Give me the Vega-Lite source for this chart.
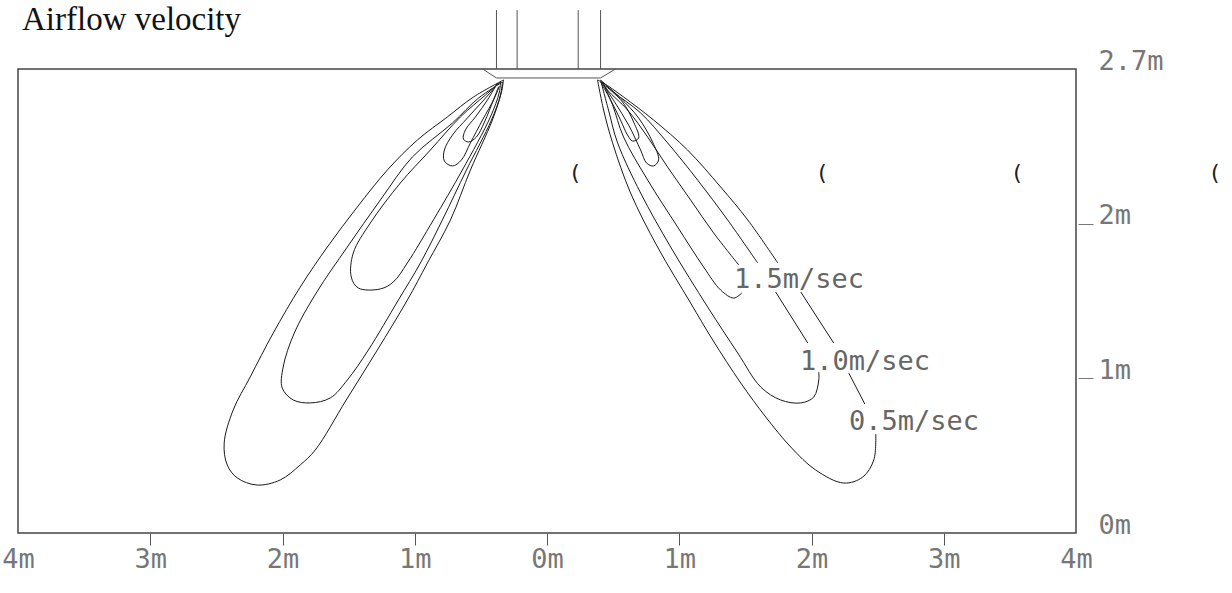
{
  "$schema": "https://vega.github.io/schema/vega-lite/v6.json",
  "autosize": {"type": "none"},
  "padding": {"left": 18, "top": 69, "right": 156, "bottom": 60},
  "width": 1058,
  "height": 464,
  "background": "white",
  "config": {"view": {"stroke": "#444", "strokeWidth": 1.5}},
  "datasets": {
    "c": [
      {"g":"L05","o":1,"x":-0.329,"y":2.929},{"g":"L05","o":2,"x":-0.556,"y":2.819},{"g":"L05","o":3,"x":-0.753,"y":2.690},{"g":"L05","o":4,"x":-0.980,"y":2.541},{"g":"L05","o":5,"x":-1.207,"y":2.347},{"g":"L05","o":6,"x":-1.434,"y":2.108},{"g":"L05","o":7,"x":-1.661,"y":1.849},{"g":"L05","o":8,"x":-1.866,"y":1.590},{"g":"L05","o":9,"x":-2.070,"y":1.293},{"g":"L05","o":10,"x":-2.244,"y":1.009},{"g":"L05","o":11,"x":-2.373,"y":0.795},{"g":"L05","o":12,"x":-2.441,"y":0.582},{"g":"L05","o":13,"x":-2.418,"y":0.440},{"g":"L05","o":14,"x":-2.342,"y":0.356},{"g":"L05","o":15,"x":-2.191,"y":0.310},{"g":"L05","o":16,"x":-2.017,"y":0.343},{"g":"L05","o":17,"x":-1.866,"y":0.440},{"g":"L05","o":18,"x":-1.752,"y":0.537},{"g":"L05","o":19,"x":-1.518,"y":0.860},{"g":"L05","o":20,"x":-1.283,"y":1.183},{"g":"L05","o":21,"x":-1.056,"y":1.506},{"g":"L05","o":22,"x":-0.904,"y":1.746},{"g":"L05","o":23,"x":-0.730,"y":2.024},{"g":"L05","o":24,"x":-0.579,"y":2.347},{"g":"L05","o":25,"x":-0.413,"y":2.670},{"g":"L05","o":26,"x":-0.344,"y":2.851},{"g":"L05","o":27,"x":-0.329,"y":2.929},
      {"g":"L10","o":1,"x":-0.337,"y":2.916},{"g":"L10","o":2,"x":-0.518,"y":2.812},{"g":"L10","o":3,"x":-0.715,"y":2.651},{"g":"L10","o":4,"x":-1.018,"y":2.431},{"g":"L10","o":5,"x":-1.260,"y":2.153},{"g":"L10","o":6,"x":-1.510,"y":1.849},{"g":"L10","o":7,"x":-1.745,"y":1.552},{"g":"L10","o":8,"x":-1.911,"y":1.293},{"g":"L10","o":9,"x":-1.995,"y":1.073},{"g":"L10","o":10,"x":-2.002,"y":0.937},{"g":"L10","o":11,"x":-1.919,"y":0.860},{"g":"L10","o":12,"x":-1.790,"y":0.841},{"g":"L10","o":13,"x":-1.639,"y":0.873},{"g":"L10","o":14,"x":-1.510,"y":0.989},{"g":"L10","o":15,"x":-1.351,"y":1.183},{"g":"L10","o":16,"x":-1.124,"y":1.506},{"g":"L10","o":17,"x":-0.957,"y":1.746},{"g":"L10","o":18,"x":-0.791,"y":2.024},{"g":"L10","o":19,"x":-0.609,"y":2.347},{"g":"L10","o":20,"x":-0.420,"y":2.670},{"g":"L10","o":21,"x":-0.352,"y":2.832},{"g":"L10","o":22,"x":-0.337,"y":2.916},
      {"g":"L15","o":1,"x":-0.352,"y":2.916},{"g":"L15","o":2,"x":-0.465,"y":2.832},{"g":"L15","o":3,"x":-0.655,"y":2.690},{"g":"L15","o":4,"x":-0.882,"y":2.476},{"g":"L15","o":5,"x":-1.109,"y":2.263},{"g":"L15","o":6,"x":-1.336,"y":2.004},{"g":"L15","o":7,"x":-1.465,"y":1.810},{"g":"L15","o":8,"x":-1.480,"y":1.655},{"g":"L15","o":9,"x":-1.427,"y":1.584},{"g":"L15","o":10,"x":-1.260,"y":1.578},{"g":"L15","o":11,"x":-1.162,"y":1.623},{"g":"L15","o":12,"x":-1.056,"y":1.746},{"g":"L15","o":13,"x":-0.859,"y":2.024},{"g":"L15","o":14,"x":-0.640,"y":2.347},{"g":"L15","o":15,"x":-0.428,"y":2.690},{"g":"L15","o":16,"x":-0.360,"y":2.851},{"g":"L15","o":17,"x":-0.352,"y":2.916},
      {"g":"L20","o":1,"x":-0.367,"y":2.909},{"g":"L20","o":2,"x":-0.465,"y":2.812},{"g":"L20","o":3,"x":-0.602,"y":2.683},{"g":"L20","o":4,"x":-0.715,"y":2.573},{"g":"L20","o":5,"x":-0.776,"y":2.476},{"g":"L20","o":6,"x":-0.776,"y":2.405},{"g":"L20","o":7,"x":-0.715,"y":2.373},{"g":"L20","o":8,"x":-0.647,"y":2.412},{"g":"L20","o":9,"x":-0.579,"y":2.522},{"g":"L20","o":10,"x":-0.488,"y":2.670},{"g":"L20","o":11,"x":-0.397,"y":2.812},{"g":"L20","o":12,"x":-0.360,"y":2.890},
      {"g":"L25","o":1,"x":-0.375,"y":2.909},{"g":"L25","o":2,"x":-0.450,"y":2.800},{"g":"L25","o":3,"x":-0.541,"y":2.690},{"g":"L25","o":4,"x":-0.617,"y":2.606},{"g":"L25","o":5,"x":-0.632,"y":2.547},{"g":"L25","o":6,"x":-0.594,"y":2.528},{"g":"L25","o":7,"x":-0.534,"y":2.560},{"g":"L25","o":8,"x":-0.473,"y":2.657},{"g":"L25","o":9,"x":-0.405,"y":2.800},{"g":"L25","o":10,"x":-0.367,"y":2.884},
      {"g":"R05a","o":1,"x":0.382,"y":2.929},{"g":"R05a","o":2,"x":0.428,"y":2.735},{"g":"R05a","o":3,"x":0.496,"y":2.522},{"g":"R05a","o":4,"x":0.632,"y":2.198},{"g":"R05a","o":5,"x":0.836,"y":1.849},{"g":"R05a","o":6,"x":1.086,"y":1.487},{"g":"R05a","o":7,"x":1.253,"y":1.248},{"g":"R05a","o":8,"x":1.465,"y":0.970},{"g":"R05a","o":9,"x":1.654,"y":0.750},{"g":"R05a","o":10,"x":1.843,"y":0.556},{"g":"R05a","o":11,"x":2.032,"y":0.407},{"g":"R05a","o":12,"x":2.244,"y":0.323},{"g":"R05a","o":13,"x":2.388,"y":0.362},{"g":"R05a","o":14,"x":2.471,"y":0.472},{"g":"R05a","o":15,"x":2.486,"y":0.640},
      {"g":"R05b","o":1,"x":2.403,"y":0.834},{"g":"R05b","o":2,"x":2.282,"y":1.034},
      {"g":"R05c","o":1,"x":2.168,"y":1.228},{"g":"R05c","o":2,"x":1.919,"y":1.558},
      {"g":"R05d","o":1,"x":1.745,"y":1.746},{"g":"R05d","o":2,"x":1.518,"y":2.024},{"g":"R05d","o":3,"x":1.313,"y":2.237},{"g":"R05d","o":4,"x":1.063,"y":2.476},{"g":"R05d","o":5,"x":0.806,"y":2.670},{"g":"R05d","o":6,"x":0.579,"y":2.819},{"g":"R05d","o":7,"x":0.428,"y":2.909},{"g":"R05d","o":8,"x":0.382,"y":2.929},
      {"g":"R10a","o":1,"x":0.405,"y":2.929},{"g":"R10a","o":2,"x":0.465,"y":2.735},{"g":"R10a","o":3,"x":0.534,"y":2.522},{"g":"R10a","o":4,"x":0.708,"y":2.198},{"g":"R10a","o":5,"x":0.935,"y":1.849},{"g":"R10a","o":6,"x":1.215,"y":1.461},{"g":"R10a","o":7,"x":1.442,"y":1.164},{"g":"R10a","o":8,"x":1.616,"y":0.944},{"g":"R10a","o":9,"x":1.767,"y":0.860},{"g":"R10a","o":10,"x":1.919,"y":0.841},{"g":"R10a","o":11,"x":2.017,"y":0.879},{"g":"R10a","o":12,"x":2.055,"y":0.989},{"g":"R10a","o":13,"x":2.055,"y":1.041},
      {"g":"R10b","o":1,"x":1.972,"y":1.228},{"g":"R10b","o":2,"x":1.729,"y":1.558},
      {"g":"R10c","o":1,"x":1.593,"y":1.746},{"g":"R10c","o":2,"x":1.366,"y":2.024},{"g":"R10c","o":3,"x":1.139,"y":2.282},{"g":"R10c","o":4,"x":0.912,"y":2.522},{"g":"R10c","o":5,"x":0.708,"y":2.716},{"g":"R10c","o":6,"x":0.503,"y":2.851},{"g":"R10c","o":7,"x":0.405,"y":2.929},
      {"g":"R15a","o":1,"x":0.420,"y":2.916},{"g":"R15a","o":2,"x":0.496,"y":2.767},{"g":"R15a","o":3,"x":0.579,"y":2.560},{"g":"R15a","o":4,"x":0.761,"y":2.282},{"g":"R15a","o":5,"x":0.988,"y":1.978},{"g":"R15a","o":6,"x":1.184,"y":1.720},{"g":"R15a","o":7,"x":1.313,"y":1.571},{"g":"R15a","o":8,"x":1.412,"y":1.519},{"g":"R15a","o":9,"x":1.473,"y":1.552},
      {"g":"R15b","o":1,"x":1.450,"y":1.733},{"g":"R15b","o":2,"x":1.260,"y":1.940},{"g":"R15b","o":3,"x":1.086,"y":2.153},{"g":"R15b","o":4,"x":0.912,"y":2.366},{"g":"R15b","o":5,"x":0.761,"y":2.560},{"g":"R15b","o":6,"x":0.609,"y":2.735},{"g":"R15b","o":7,"x":0.458,"y":2.864},{"g":"R15b","o":8,"x":0.420,"y":2.916},
      {"g":"R20","o":1,"x":0.412,"y":2.916},{"g":"R20","o":2,"x":0.511,"y":2.787},{"g":"R20","o":3,"x":0.617,"y":2.638},{"g":"R20","o":4,"x":0.708,"y":2.476},{"g":"R20","o":5,"x":0.753,"y":2.392},{"g":"R20","o":6,"x":0.806,"y":2.373},{"g":"R20","o":7,"x":0.844,"y":2.412},{"g":"R20","o":8,"x":0.798,"y":2.528},{"g":"R20","o":9,"x":0.693,"y":2.683},{"g":"R20","o":10,"x":0.556,"y":2.812},{"g":"R20","o":11,"x":0.443,"y":2.897},
      {"g":"R25","o":1,"x":0.405,"y":2.916},{"g":"R25","o":2,"x":0.481,"y":2.800},{"g":"R25","o":3,"x":0.556,"y":2.670},{"g":"R25","o":4,"x":0.609,"y":2.573},{"g":"R25","o":5,"x":0.647,"y":2.534},{"g":"R25","o":6,"x":0.693,"y":2.554},{"g":"R25","o":7,"x":0.655,"y":2.657},{"g":"R25","o":8,"x":0.571,"y":2.787},{"g":"R25","o":9,"x":0.443,"y":2.890}
    ],
    "s": [
      {"g":"V1","o":1,"x":-0.382,"y":3.0},{"g":"V1","o":2,"x":-0.382,"y":3.381},
      {"g":"V2","o":1,"x":-0.226,"y":3.0},{"g":"V2","o":2,"x":-0.226,"y":3.381},
      {"g":"V3","o":1,"x":0.236,"y":3.0},{"g":"V3","o":2,"x":0.236,"y":3.381},
      {"g":"V4","o":1,"x":0.405,"y":3.0},{"g":"V4","o":2,"x":0.405,"y":3.381},
      {"g":"T","o":1,"x":-0.487,"y":3.0},{"g":"T","o":2,"x":-0.382,"y":2.942},{"g":"T","o":3,"x":0.405,"y":2.942},{"g":"T","o":4,"x":0.518,"y":3.0}
    ],
    "t": [
      {"x":1.414,"y":1.584,"t":"1.5m/sec"},
      {"x":1.913,"y":1.054,"t":"1.0m/sec"},
      {"x":2.284,"y":0.666,"t":"0.5m/sec"}
    ],
    "p": [
      {"x":0.212,"y":2.282,"t":"("},
      {"x":2.080,"y":2.282,"t":"("},
      {"x":3.555,"y":2.282,"t":"("},
      {"x":5.050,"y":2.282,"t":"("}
    ],
    "h": [
      {"x":-4,"y":3.252,"t":"Airflow velocity"}
    ]
  },
  "encoding": {
    "x": {"field": "x", "type": "quantitative",
      "scale": {"domain": [-4, 4], "nice": false, "zero": false},
      "axis": {"title": null, "orient": "bottom", "values": [-4,-3,-2,-1,0,1,2,3,4], "labelExpr": "abs(datum.value) + 'm'", "domain": false, "grid": false, "tickSize": 12, "tickWidth": 1, "tickColor": {"condition": {"test": "abs(datum.value) == 4", "value": "transparent"}, "value": "#555"}, "labelFont": "DejaVu Sans Mono", "labelFontSize": 27, "labelColor": "#777", "labelPadding": 1, "labelFlush": false, "labelOverlap": false, "labelBound": false}},
    "y": {"field": "y", "type": "quantitative",
      "scale": {"domain": [0, 3], "nice": false, "zero": false},
      "axis": {"title": null, "orient": "right", "values": [0,1,2,3], "labelExpr": "datum.value == 3 ? '2.7m' : datum.value + 'm'", "offset": 2, "domain": false, "grid": false, "tickSize": 15, "tickWidth": 1, "tickColor": {"condition": {"test": "datum.value == 0 || datum.value == 3", "value": "transparent"}, "value": "#777"}, "labelAlign": "left", "labelBaseline": "alphabetic", "labelPadding": 5, "labelFont": "DejaVu Sans Mono", "labelFontSize": 27, "labelColor": "#777", "labelFlush": false, "labelOverlap": false, "labelBound": false}}
  },
  "layer": [
    {"data": {"name": "c"}, "mark": {"type": "line", "interpolate": "catmull-rom", "strokeWidth": 1, "color": "#1a1a1a"},
      "encoding": {"detail": {"field": "g"}, "order": {"field": "o", "type": "quantitative"}}},
    {"data": {"name": "s"}, "mark": {"type": "line", "strokeWidth": 1, "color": "#555"},
      "encoding": {"detail": {"field": "g"}, "order": {"field": "o", "type": "quantitative"}}},
    {"data": {"name": "t"}, "mark": {"type": "text", "align": "left", "baseline": "alphabetic", "font": "DejaVu Sans Mono", "fontSize": 27, "color": "#666"},
      "encoding": {"text": {"field": "t"}}},
    {"data": {"name": "p"}, "mark": {"type": "text", "align": "center", "baseline": "alphabetic", "font": "DejaVu Sans Mono", "fontSize": 22, "color": "#222"},
      "encoding": {"text": {"field": "t"}}},
    {"data": {"name": "h"}, "mark": {"type": "text", "align": "left", "baseline": "alphabetic", "dx": 4, "font": "Liberation Serif", "fontSize": 33, "color": "#111"},
      "encoding": {"text": {"field": "t"}}}
  ]
}
